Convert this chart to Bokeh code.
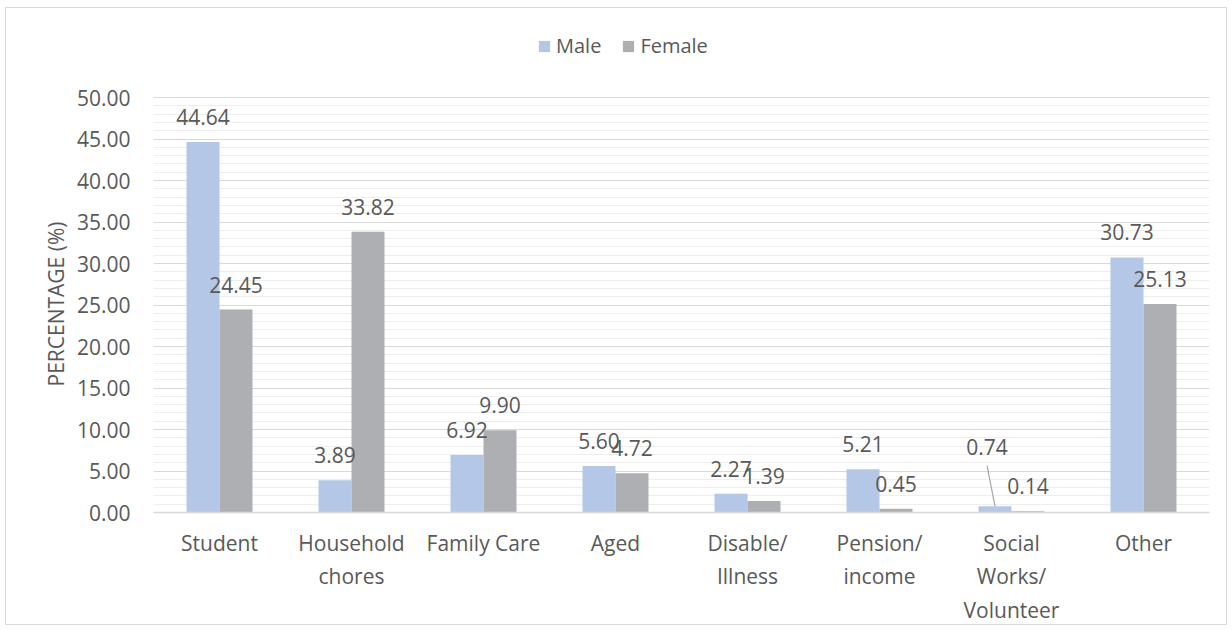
from bokeh.plotting import figure
from bokeh.models import (FactorRange, Range1d, ColumnDataSource, LabelSet, Legend, LegendItem,
                          FixedTicker, PrintfTickFormatter, Title)
from bokeh.transform import dodge
from bokeh.core.properties import value
from bokeh.embed import file_html
from bokeh.resources import INLINE

categories = ["Student", "Household\nchores", "Family Care", "Aged", "Disable/\nIllness",
              "Pension/\nincome", "Social\nWorks/\nVolunteer", "Other"]
male = [44.64, 3.89, 6.92, 5.60, 2.27, 5.21, 0.74, 30.73]
female = [24.45, 33.82, 9.90, 4.72, 1.39, 0.45, 0.14, 25.13]
series = ["Male", "Female"]
y_ticks = [0, 5, 10, 15, 20, 25, 30, 35, 40, 45, 50]
y_title = "PERCENTAGE (%)"

MALE_C = "#B4C7E7"
FEMALE_C = "#AEAFB2"
TEXT_C = "#595959"
FONT = "Open Sans"
FS = "21px"

src = ColumnDataSource(dict(
    cat=categories, male=male, female=female,
    male_lbl=["" if i == 6 else f"{v:.2f}" for i, v in enumerate(male)],
    female_lbl=[f"{v:.2f}" for v in female],
))

# frame extends above the 50 line to make room for the legend (px per unit ~8.34)
top_pad = (97.5 - 8) / 8.34
p = figure(x_range=FactorRange(*categories), y_range=Range1d(y_ticks[0], y_ticks[-1] + top_pad),
           width=1222, height=618, output_backend="svg", toolbar_location=None,
           min_border_left=147, min_border_right=19, min_border_top=0, min_border_bottom=111)
p.styles = {"border": "1px solid #D9D9D9", "margin-left": "5px", "margin-top": "7px"}
p.outline_line_color = None

mr = p.vbar(x=dodge("cat", -0.125, range=p.x_range), top="male", width=0.25, source=src,
            fill_color=MALE_C, line_color=None)
fr = p.vbar(x=dodge("cat", 0.125, range=p.x_range), top="female", width=0.25, source=src,
            fill_color=FEMALE_C, line_color=None)

for col, off in (("male_lbl", -0.125), ("female_lbl", 0.125)):
    top = "male" if col == "male_lbl" else "female"
    p.add_layout(LabelSet(x=dodge("cat", off, range=p.x_range), y=top, text=col, source=src,
                          y_offset=25, text_align="center", text_baseline="middle",
                          text_font=value(FONT), text_font_size=FS, text_color=TEXT_C))

# moved label with leader line (Social Works male)
i = 6
moved = ColumnDataSource(dict(x=[categories[i]], y=[male[i]], t=[f"{male[i]:.2f}"]))
p.add_layout(LabelSet(x=dodge("x", -0.125, range=p.x_range), y="y", text="t", source=moved,
                      x_offset=-8, y_offset=59, text_align="center", text_baseline="middle",
                      text_font=value(FONT), text_font_size=FS, text_color=TEXT_C))
p.segment(x0=[i + 0.5 - 0.125], y0=[male[i]], x1=[i + 0.5 - 0.185], y1=[male[i] + 4.9],
          line_color="#A6A6A6", line_width=1.2)

# axes
minor = [v for v in range(y_ticks[0], y_ticks[-1] + 1) if v % 5]
yt = FixedTicker(ticks=y_ticks, minor_ticks=minor)
p.yaxis.ticker = yt
p.yaxis.formatter = PrintfTickFormatter(format="%.2f")
p.yaxis.axis_line_color = None
p.yaxis.major_tick_line_color = None
p.yaxis.minor_tick_line_color = None
p.yaxis.major_tick_out = 0
p.yaxis.major_tick_in = 0
p.yaxis.minor_tick_out = 0
p.yaxis.major_label_standoff = 23
p.yaxis.major_label_text_font = FONT
p.yaxis.major_label_text_font_size = FS
p.yaxis.major_label_text_color = TEXT_C

# y-axis title, aligned to the 0..50 part of the frame
p.add_layout(Title(text=y_title, align="left", offset=126, standoff=8,
                   text_font=FONT, text_font_size=FS, text_font_style="normal",
                   text_color=TEXT_C), "left")

p.xaxis.axis_line_color = "#D9D9D9"
p.xaxis.axis_line_width = 1.5
p.xaxis.major_tick_line_color = None
p.xaxis.major_tick_out = 0
p.xaxis.major_tick_in = 0
p.xaxis.major_label_standoff = 16
p.xaxis.major_label_text_font = FONT
p.xaxis.major_label_text_font_size = FS
p.xaxis.major_label_text_color = TEXT_C

p.xgrid.grid_line_color = None
p.ygrid.ticker = yt
p.ygrid.grid_line_color = "#D9D9D9"
p.ygrid.grid_line_width = 1.2
p.ygrid.minor_grid_line_color = "#EEEEEE"
p.ygrid.minor_grid_line_width = 1

legend = Legend(items=[LegendItem(label=series[0], renderers=[mr]),
                       LegendItem(label=series[1], renderers=[fr])],
                orientation="horizontal", location=(384, 453),
                glyph_width=14, glyph_height=14, label_standoff=5, spacing=20,
                padding=0, margin=0, border_line_color=None, background_fill_alpha=0,
                label_text_font=FONT, label_text_font_size="20px", label_text_color=TEXT_C,
                label_height=20)
p.add_layout(legend, "center")

open("out.html", "w").write(file_html(p, INLINE))
